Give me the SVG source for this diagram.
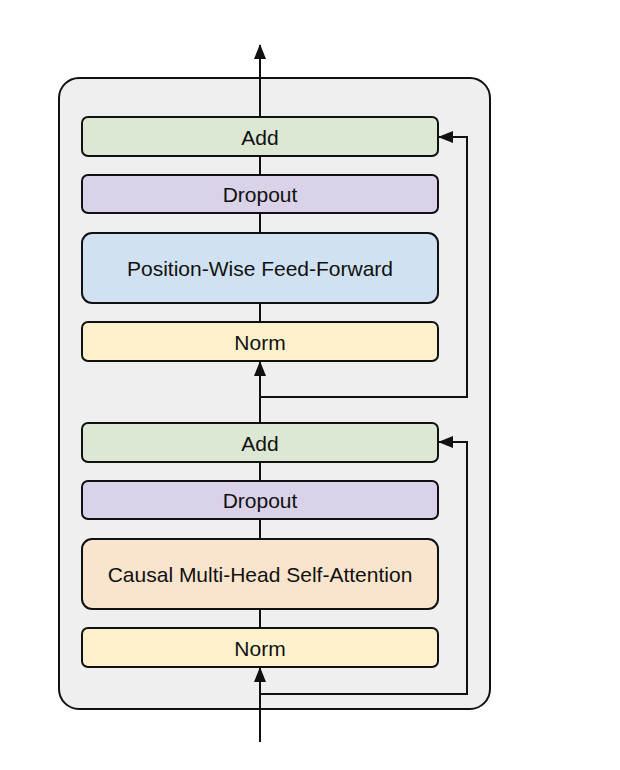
<svg xmlns="http://www.w3.org/2000/svg" width="620" height="770" viewBox="0 0 620 770">
<style>
.blk{stroke:#111;stroke-width:2}
.lbl{font-family:"Liberation Sans",Arial,sans-serif;font-size:21px;fill:#111;text-anchor:middle;dominant-baseline:central}
.ln{fill:none;stroke:#111;stroke-width:2}
</style>
<defs>
<marker id="ah" viewBox="0 0 15 12" refX="14" refY="6" markerWidth="15" markerHeight="12" markerUnits="userSpaceOnUse" orient="auto">
<path d="M0,0 L15,6 L0,12 Z" fill="#111"/>
</marker>
</defs>
<rect width="620" height="770" fill="#fff"/>
<g id="outer"><rect x="59" y="78" width="431" height="631" rx="20" fill="#efefef" class="blk"/></g>
<g id="connectors">
<line class="ln" x1="260" y1="742" x2="260" y2="668" marker-end="url(#ah)"/>
<line class="ln" x1="260" y1="628" x2="260" y2="609"/>
<line class="ln" x1="260" y1="539" x2="260" y2="519"/>
<line class="ln" x1="260" y1="481" x2="260" y2="462"/>
<line class="ln" x1="260" y1="423" x2="260" y2="362" marker-end="url(#ah)"/>
<line class="ln" x1="260" y1="322" x2="260" y2="303"/>
<line class="ln" x1="260" y1="233" x2="260" y2="213"/>
<line class="ln" x1="260" y1="175" x2="260" y2="156"/>
<line class="ln" x1="260" y1="117" x2="260" y2="45" marker-end="url(#ah)"/>
<polyline class="ln" points="260,694 467,694 467,442 439,442" marker-end="url(#ah)"/>
<polyline class="ln" points="260,397 467,397 467,137 439,137" marker-end="url(#ah)"/>
</g>
<g id="add1"><rect x="82" y="117" width="356" height="39" rx="6" fill="#dce8d4" class="blk"/><text class="lbl" x="260" y="137">Add</text></g>
<g id="dropout1"><rect x="82" y="175" width="356" height="38" rx="6" fill="#d9d2e8" class="blk"/><text class="lbl" x="260" y="194">Dropout</text></g>
<g id="ffn"><rect x="82" y="233" width="356" height="70" rx="10" fill="#d0e2f2" class="blk"/><text class="lbl" x="260" y="268">Position-Wise Feed-Forward</text></g>
<g id="norm1"><rect x="82" y="322" width="356" height="39" rx="6" fill="#fdf1cd" class="blk"/><text class="lbl" x="260" y="342">Norm</text></g>
<g id="add2"><rect x="82" y="423" width="356" height="39" rx="6" fill="#dce8d4" class="blk"/><text class="lbl" x="260" y="443">Add</text></g>
<g id="dropout2"><rect x="82" y="481" width="356" height="38" rx="6" fill="#d9d2e8" class="blk"/><text class="lbl" x="260" y="500">Dropout</text></g>
<g id="attn"><rect x="82" y="539" width="356" height="70" rx="10" fill="#f9e5ce" class="blk"/><text class="lbl" x="260" y="574">Causal Multi-Head Self-Attention</text></g>
<g id="norm2"><rect x="82" y="628" width="356" height="39" rx="6" fill="#fdf1cd" class="blk"/><text class="lbl" x="260" y="648">Norm</text></g>
</svg>
